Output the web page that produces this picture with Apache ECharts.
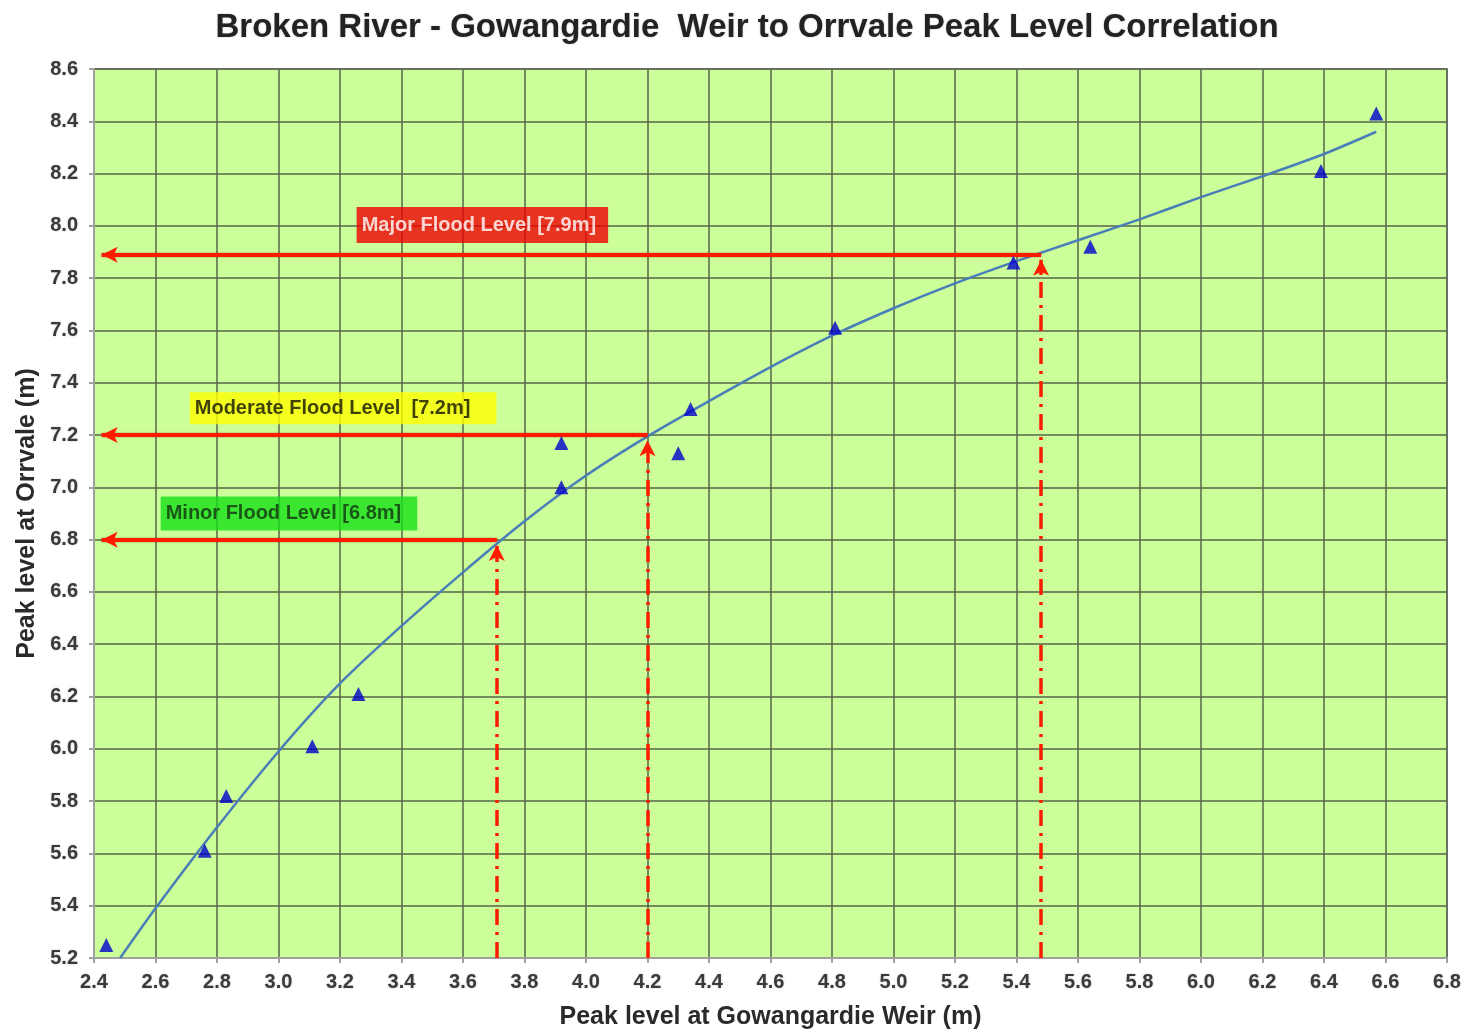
<!DOCTYPE html>
<html>
<head>
<meta charset="utf-8">
<script src="https://cdn.jsdelivr.net/npm/echarts@6/dist/echarts.min.js"></script>
<style>
html,body{margin:0;padding:0;background:#fff;}
#chart{width:1464px;height:1032px;}
</style>
</head>
<body>
<div id="chart"></div>
<script>
// Observed peak levels (Gowangardie Weir, Orrvale)
const obsX = [2.44, 2.76, 2.83, 3.11, 3.26, 3.92, 3.92, 4.30, 4.34, 4.81, 5.39, 5.64, 6.39, 6.57];
const obsY = [5.25, 5.61, 5.82, 6.01, 6.21, 7.17, 7.00, 7.13, 7.30, 7.61, 7.86, 7.92, 8.21, 8.43];

// Correlation curve
const trendX = [2.485, 2.6, 2.8, 3.0, 3.2, 3.4, 3.6, 3.8, 4.0, 4.2, 4.4, 4.6, 4.8, 5.0, 5.2, 5.4, 5.6, 5.8, 6.0, 6.2, 6.4, 6.57];
const trendY = [5.2, 5.39, 5.70, 5.99, 6.25, 6.47, 6.675, 6.87, 7.045, 7.195, 7.33, 7.46, 7.58, 7.685, 7.78, 7.865, 7.945, 8.025, 8.11, 8.19, 8.275, 8.36];

// Flood levels
const floodNames = ['Minor Flood Level [6.8m]', 'Moderate Flood Level  [7.2m]', 'Major Flood Level [7.9m]'];
const floodOrrvale = [6.8, 7.2, 7.89];
const floodGowangardie = [3.71, 4.2, 5.48];

// Axis ranges / ticks
const xMin = 2.4, xMax = 6.8, xStep = 0.2;
const yMin = 5.2, yMax = 8.6, yStep = 0.2;

const axisLeftEnd = 2.425;

const labelFont = 'Liberation Sans, Arial, sans-serif';
const floodStyles = [
  {bg:'#16e016', fg:'#123312', pos:[3.034, 6.90], pad:[7,16,7,5]},
  {bg:'#ffff00', fg:'#111100', pos:[3.21, 7.303], pad:[6,26,6,5]},
  {bg:'#ee0000', fg:'#ffffff', pos:[3.663, 8.003], pad:[8,12,8,5]}
];

const trendData = trendX.map((x,i)=>[x, trendY[i]]);
const obsData = obsX.map((x,i)=>[x, obsY[i]]);

const arrowLines = [];
floodOrrvale.forEach((lv,i)=>{
  arrowLines.push([
    {coord:[floodGowangardie[i], lv], lineStyle:{type:'solid', width:4, color:'#ff1a00', shadowColor:'rgba(120,0,0,0.5)', shadowBlur:2}},
    {coord:[axisLeftEnd, lv]}
  ]);
  arrowLines.push([
    {coord:[floodGowangardie[i], yMin], lineStyle:{type:[16,7,3,7], width:3.5, color:'#ff1a00'}},
    {coord:[floodGowangardie[i], lv - 0.02]}
  ]);
});

const labelSeries = floodNames.map((n,i)=>({
  type:'scatter',
  symbolSize:1,
  itemStyle:{color:'rgba(0,0,0,0)'},
  silent:true,
  z:5,
  data:[{name:n, value:floodStyles[i].pos}],
  label:{
    show:true, position:'inside',
    formatter:'{b}',
    fontFamily:labelFont, fontWeight:'bold', fontSize:20,
    color:floodStyles[i].fg,
    backgroundColor:floodStyles[i].bg,
    padding:floodStyles[i].pad
  }
}));

const chart = echarts.init(document.getElementById('chart'), null, {renderer:'canvas'});
const axisLabelStyle = {fontFamily:labelFont, fontWeight:'bold', fontSize:20, color:'#3a3a3a',
  textShadowColor:'rgba(0,0,0,0.25)', textShadowBlur:2};
chart.setOption({
  animation:false,
  backgroundColor:'#ffffff',
  title:{
    text:'Broken River - Gowangardie  Weir to Orrvale Peak Level Correlation',
    left:742, textAlign:'center', top:6,
    textStyle:{fontFamily:labelFont, fontWeight:'bold', fontSize:33, color:'#222',
      textShadowColor:'rgba(0,0,0,0.25)', textShadowBlur:2}
  },
  grid:{left:94, right:17, top:69, bottom:74, show:true, backgroundColor:'#ccff99', borderColor:'#a0a0a0', borderWidth:2,
    outerBoundsMode:'none', containLabel:false},
  xAxis:{
    type:'value', min:xMin, max:xMax, interval:xStep,
    name:'Peak level at Gowangardie Weir (m)', nameLocation:'middle', nameGap:47,
    nameTextStyle:{fontFamily:labelFont, fontWeight:'bold', fontSize:25, color:'#2a2a2a'},
    axisLine:{show:true, lineStyle:{color:'#a0a0a0', width:2}},
    axisTick:{show:true, length:5, lineStyle:{color:'#a0a0a0', width:2}},
    axisLabel:Object.assign({margin:14, formatter:v=>v.toFixed(1)}, axisLabelStyle),
    splitLine:{show:true, lineStyle:{color:'#56644a', width:1.5}}
  },
  yAxis:{
    type:'value', min:yMin, max:yMax, interval:yStep,
    name:'Peak level at Orrvale (m)', nameLocation:'middle', nameGap:53, nameRotate:90,
    nameTextStyle:{fontFamily:labelFont, fontWeight:'bold', fontSize:25, color:'#2a2a2a'},
    axisLine:{show:true, lineStyle:{color:'#a0a0a0', width:2}},
    axisTick:{show:true, length:5, lineStyle:{color:'#a0a0a0', width:2}},
    axisLabel:Object.assign({margin:16, formatter:v=>v.toFixed(1)}, axisLabelStyle),
    splitLine:{show:true, lineStyle:{color:'#56644a', width:1.5}}
  },
  series:[
    {
      type:'line', data:trendData, showSymbol:false, smooth:0.25, z:3,
      lineStyle:{color:'#4a7eb8', width:2.5},
      markLine:{
        silent:true, symbol:['none','arrow'], symbolSize:[12,16],
        label:{show:false}, z:4,
        data:arrowLines
      }
    },
    {
      type:'scatter', data:obsData, symbol:'triangle', symbolSize:14, z:6,
      itemStyle:{color:'#0000cc'}
    }
  ].concat(labelSeries)
});
</script>
</body>
</html>
